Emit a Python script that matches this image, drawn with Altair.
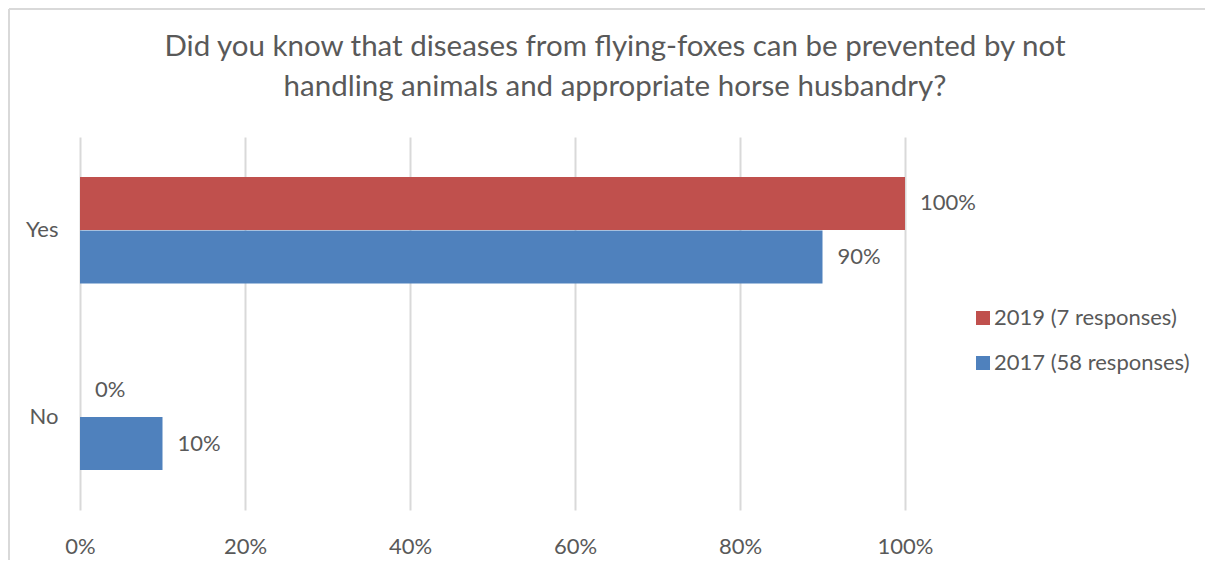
import altair as alt
import pandas as pd

answers = ["Yes", "No"]
series = ["2019 (7 responses)", "2017 (58 responses)"]
values_2019 = [1.00, 0.00]
values_2017 = [0.90, 0.10]
x_ticks = [0, 0.2, 0.4, 0.6, 0.8, 1.0]
colors = ["#C0504D", "#4F81BD"]
title_lines = [
    "Did you know that diseases from flying-foxes can be prevented by not",
    "handling animals and appropriate horse husbandry?",
]

rows = []
for i, a in enumerate(answers):
    rows.append({"answer": a, "series": series[0], "value": values_2019[i]})
    rows.append({"answer": a, "series": series[1], "value": values_2017[i]})
df = pd.DataFrame(rows)

FONT = "Lato"
GRAY = "#595959"
FS = 22

base = alt.Chart(df).encode(
    y=alt.Y(
        "answer:N",
        sort=answers,
        title=None,
        scale=alt.Scale(paddingInner=0.426, paddingOuter=0.213),
        axis=alt.Axis(
            labelFont=FONT, labelFontSize=FS, labelColor=GRAY, labelPadding=22,
            ticks=False, domain=False, grid=False,
        ),
    ),
    yOffset=alt.YOffset("series:N", sort=series),
)

bars = base.mark_bar(size=53).encode(
    x=alt.X(
        "value:Q",
        scale=alt.Scale(domain=[0, 1]),
        title=None,
        axis=alt.Axis(
            values=x_ticks, format=".0%", labelFont=FONT, labelFontSize=FS,
            labelColor=GRAY, labelPadding=26, labelFlush=False, ticks=False,
            domain=False, grid=True, gridColor="#D9D9D9", gridWidth=2,
        ),
    ),
    color=alt.Color(
        "series:N",
        scale=alt.Scale(domain=series, range=colors),
        legend=alt.Legend(
            title=None, orient="none", legendX=892, legendY=170,
            symbolType="square", symbolSize=196, symbolStrokeWidth=0,
            labelFont=FONT, labelFontSize=FS, labelColor=GRAY,
            rowPadding=23, labelOffset=0, labelLimit=400,
        ),
    ),
)

labels = base.mark_text(align="left", dx=15, font=FONT, fontSize=FS, color=GRAY).encode(
    x="value:Q",
    text=alt.Text("value:Q", format=".0%"),
)

one = pd.DataFrame({"f": [0]})
frame_top = alt.Chart(one).mark_rule(color="#D9D9D9", strokeWidth=2).encode(
    x=alt.value(-71), x2=alt.value(1200), y=alt.value(-128),
)
frame_left = alt.Chart(one).mark_rule(color="#D9D9D9", strokeWidth=2).encode(
    x=alt.value(-71), y=alt.value(-128), y2=alt.value(600),
)

title = alt.Chart(one).mark_text(
    text=title_lines, font=FONT, fontSize=29.5, color=GRAY, lineHeight=40,
    align="center", baseline="middle",
).encode(x=alt.value(535), y=alt.value(-90))

chart = alt.layer(frame_top, frame_left, bars, labels, title).properties(
    width=825,
    height=373,
    background="white",
    autosize=alt.AutoSizeParams(type="none"),
    padding={"left": 72, "top": 129, "right": 300, "bottom": 50},
).configure_view(stroke=None)

chart.save("out.html", embed_options={"renderer": "svg", "actions": False})
